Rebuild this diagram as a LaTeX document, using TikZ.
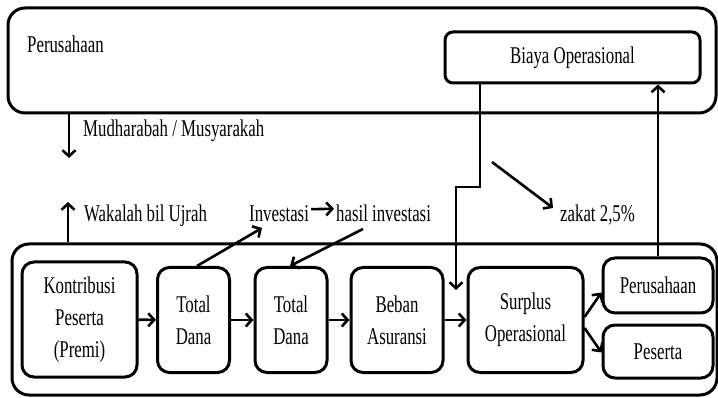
\documentclass[tikz,border=0pt]{standalone}
\usepackage{fontspec}
\setmainfont{Liberation Serif}[FakeStretch=0.7]
\usetikzlibrary{arrows.meta}
\begin{document}
\begin{tikzpicture}[x=1pt, y=-1pt, font=\fontsize{24}{32}\selectfont,
   box/.style={draw, line width=3pt, rounded corners=12pt, align=center, inner sep=0pt},
   frame/.style={draw, line width=3pt, rounded corners=17pt},
   arr/.style={line width=2.6pt, -{Straight Barb[length=6pt,width=13pt]}},
   lbl/.style={anchor=base west, inner sep=1pt}]
   \useasboundingbox (0,0) rectangle (718,398);

   \node [frame, minimum width=708pt, minimum height=105pt] (topbox) at (362,60.5) {};
   \node [lbl] (toptext) at (26,53) {Perusahaan};
   \node [box, rounded corners=8pt, minimum width=255pt, minimum height=51pt] (biaya) at (572.5,57.5) {Biaya Operasional};

   \node [frame, minimum width=705pt, minimum height=151pt] (bottombox) at (364.5,319.5) {};
   \node [box, minimum width=115pt, minimum height=115pt] (kontribusi) at (79.5,319.5) {Kontribusi\\Peserta\\(Premi)};
   \node [box, minimum width=72pt, minimum height=105pt] (dana1) at (193.5,320) {Total\\Dana};
   \node [box, minimum width=72pt, minimum height=105pt] (dana2) at (291,320) {Total\\Dana};
   \node [box, minimum width=92pt, minimum height=105pt] (beban) at (397,320) {Beban\\Asuransi};
   \node [box, minimum width=115pt, minimum height=105pt] (surplus) at (525.5,320) {Surplus\\Operasional};
   \node [box, minimum width=110pt, minimum height=55pt] (perus) at (658,285.5) {Perusahaan};
   \node [box, minimum width=110pt, minimum height=53pt] (peserta) at (658,351.5) {Peserta};

   \node [lbl] (mudharabah) at (82,137) {Mudharabah / Musyarakah};
   \node [lbl] (wakalah) at (83,222) {Wakalah bil Ujrah};
   \node [lbl] (investasi) at (248,222) {Investasi};
   \node [lbl] (hasil) at (335,222) {hasil investasi};
   \node [lbl] (zakat) at (559,222) {zakat 2,5\%};

   \coordinate (mudtip) at (69,158);
   \coordinate (waktip) at (68,202);
   \coordinate (bend) at (456,187);
   \coordinate (drop) at (456,290);
   \coordinate (zakatfrom) at (492,162);

   \draw [arr] (mudtip |- topbox.south) -- (mudtip);
   \draw [arr] (waktip |- bottombox.north) -- (waktip);
   \draw [arr] (kontribusi) -- (dana1);
   \draw [arr] (dana1) -- (dana2);
   \draw [arr] (dana2) -- (beban);
   \draw [arr] (beban) -- (surplus);
   \draw [arr] ([yshift=3pt]surplus.east) -- ([yshift=-7pt]perus.west);
   \draw [arr] ([yshift=-8pt]surplus.east) -- ([yshift=-1pt]peserta.west);
   \draw [arr] ([xshift=3.5pt]dana1.north) -- ([xshift=14pt,yshift=-6pt]investasi.base west);
   \draw [arr] ([xshift=1pt,yshift=5pt]investasi.east) -- ([xshift=-1pt,yshift=5pt]hasil.west);
   \draw [arr] ([xshift=28pt,yshift=-7pt]hasil.base west) -- ([xshift=-1pt]dana2.north);
   \draw [arr] ([xshift=-92.5pt]biaya.south) |- (bend) -- (drop);
   \draw [arr] (perus.north) -- (perus.north |- biaya.south);
   \draw [arr] (zakatfrom) -- ([xshift=-6pt,yshift=14pt]zakat.base west);
\end{tikzpicture}
\end{document}
